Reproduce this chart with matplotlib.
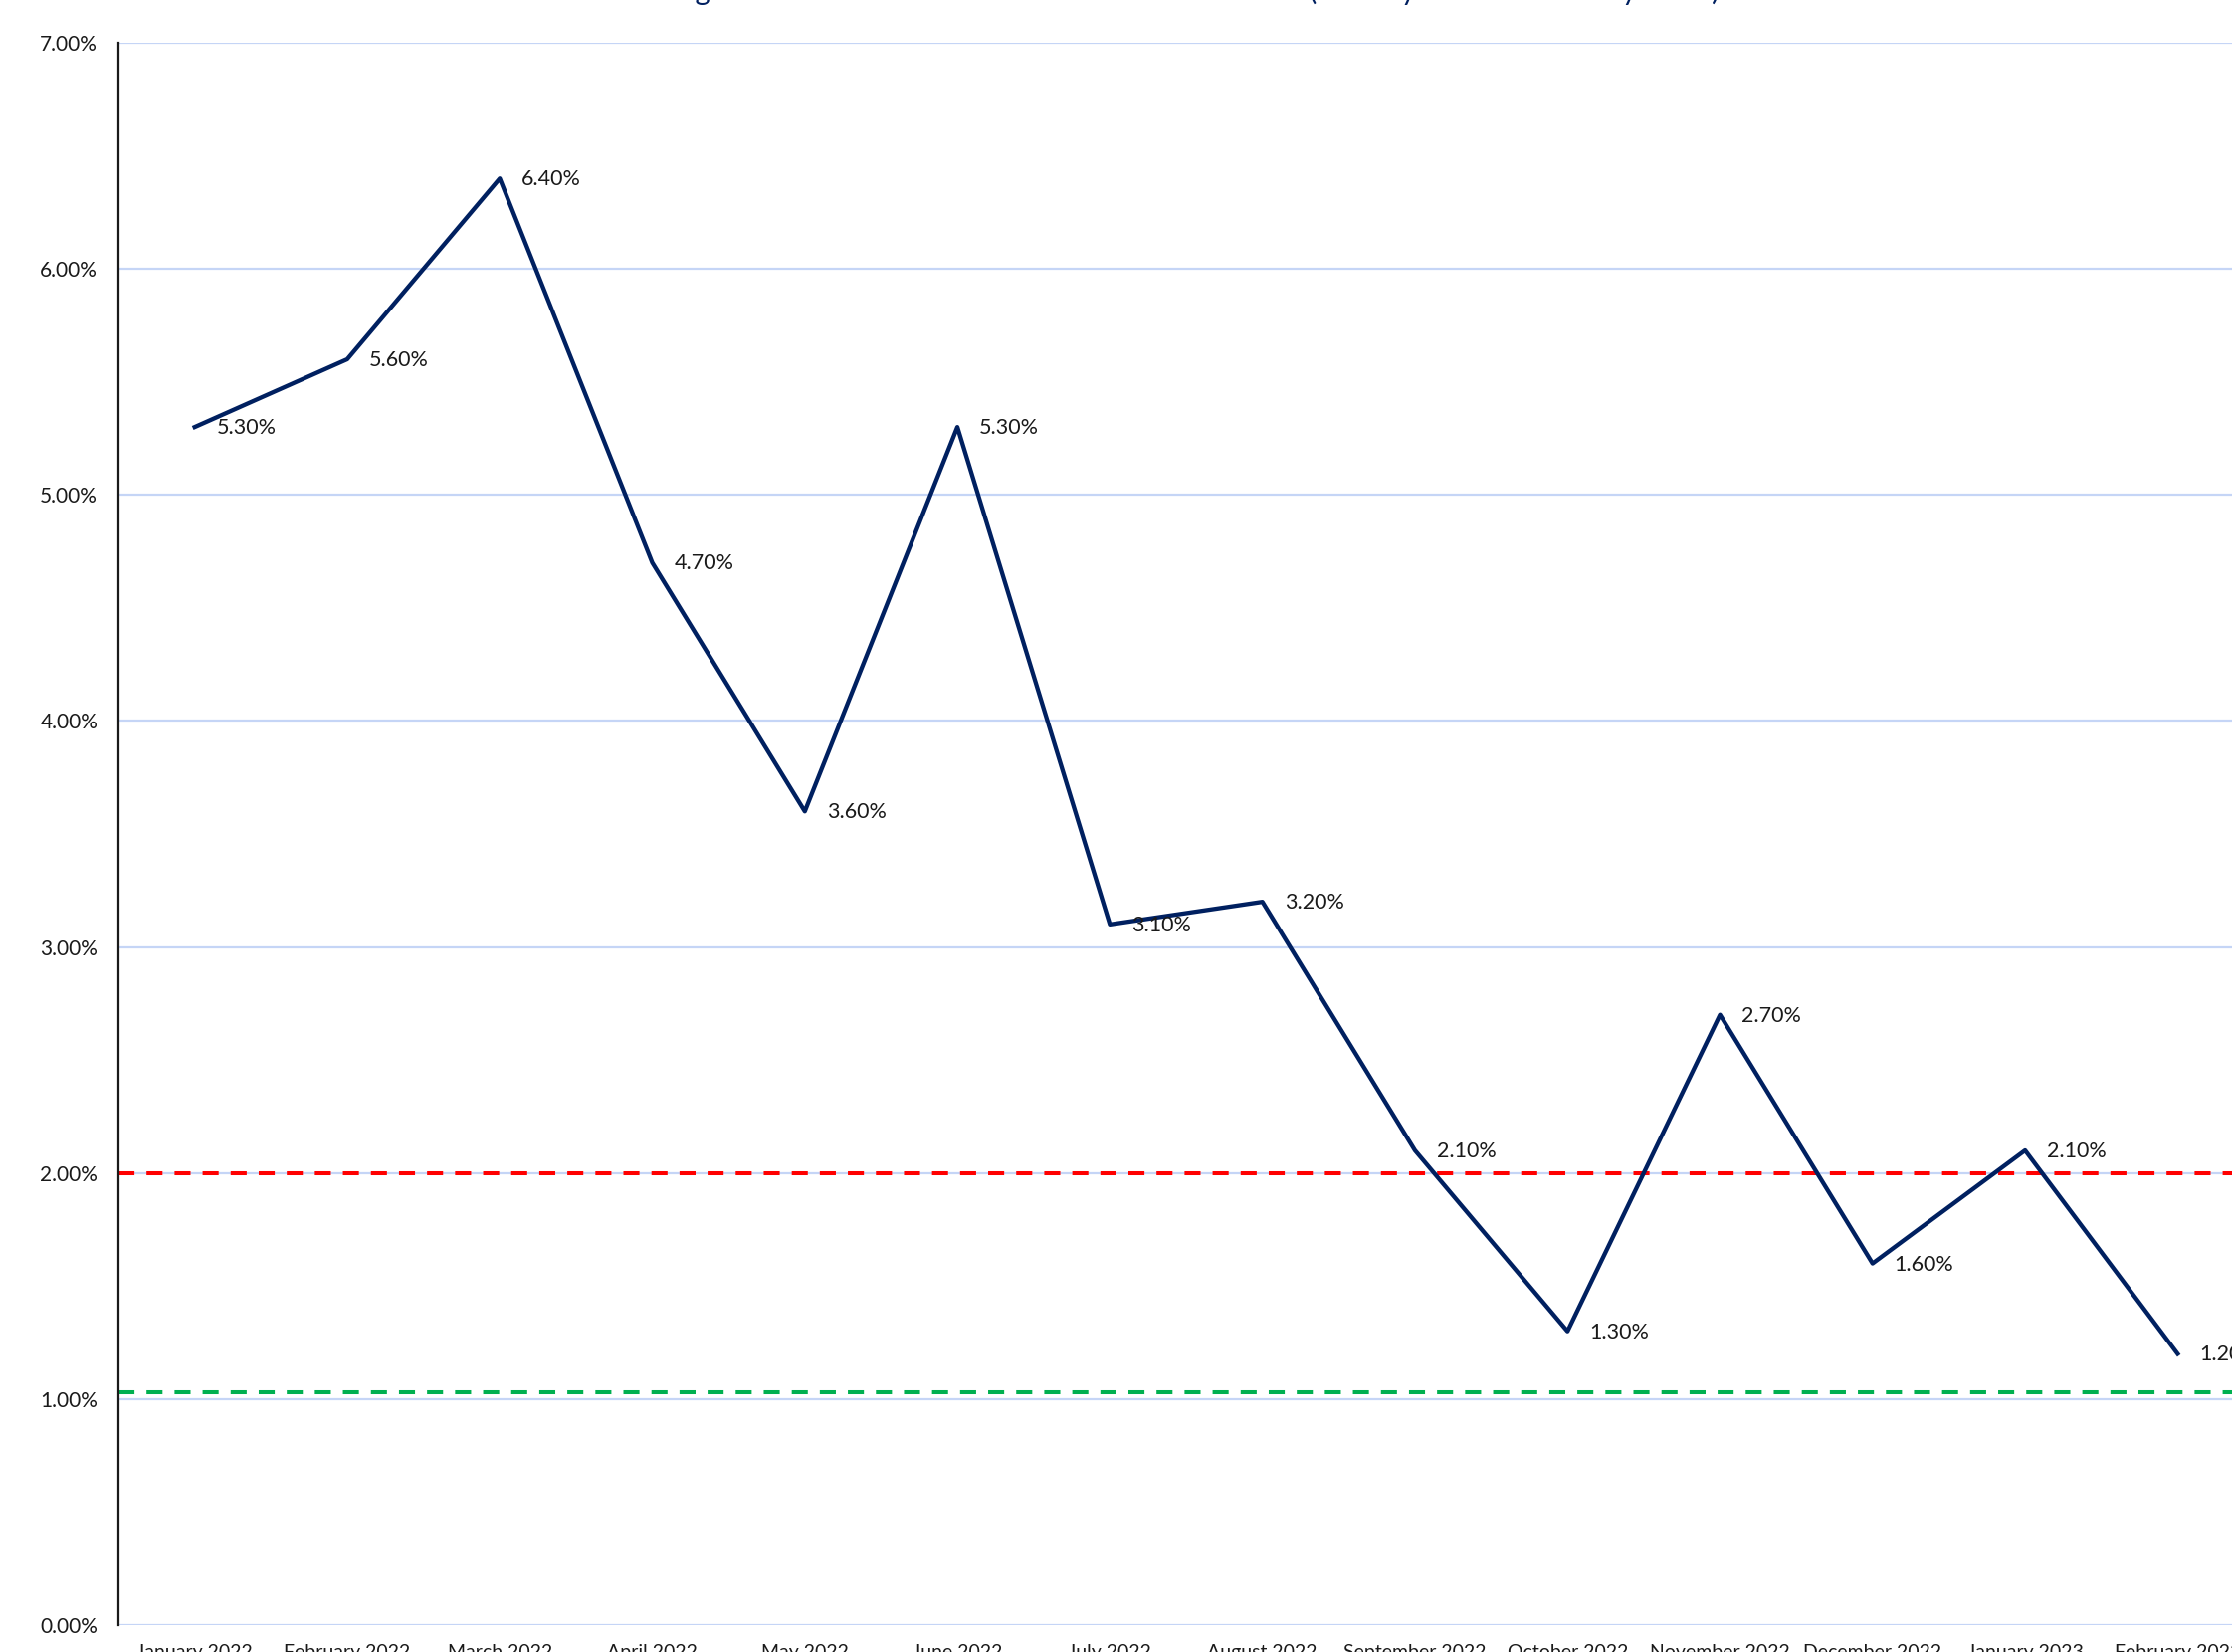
import numpy as np
import matplotlib.pyplot as plt
from matplotlib.ticker import FuncFormatter

months = ["January 2022", "February 2022", "March 2022", "April 2022", "May 2022",
          "June 2022", "July 2022", "August 2022", "September 2022", "October 2022",
          "November 2022", "December 2022", "January 2023", "February 2023"]
rates = [5.3, 5.6, 6.4, 4.7, 3.6, 5.3, 3.1, 3.2, 2.1, 1.3, 2.7, 1.6, 2.1, 1.2]
upper_ref = 2.0
lower_ref = 1.03
title = "Change in the Harmonised Index of Consumer Prices (January 2022 \u2013 February 2023)"

plt.rcParams['font.family'] = ['Lato', 'DejaVu Sans']

W, H = 2243, 1660
fig = plt.figure(figsize=(W / 100, H / 100), dpi=100)
# the plot area runs past the right edge of the image, as in the reference crop
ax = fig.add_axes([119 / W, 27 / H, (2265 - 119) / W, (1633 - 43) / H])

x = np.arange(len(months))
y = np.array(rates) / 100

ax.set_axisbelow(True)
ax.yaxis.grid(True, color='#C5D5F6', linewidth=1.6)
ax.set_xlim(-0.5, len(months) - 0.5)
ax.set_ylim(0, 0.07)
ax.set_yticks(np.arange(0, 0.0701, 0.01))
ax.yaxis.set_major_formatter(FuncFormatter(lambda v, p: f"{v * 100:.2f}%"))
ax.set_xticks(x)
ax.set_xticklabels(months)
ax.tick_params(axis='both', length=0, labelsize=15, colors='#1a1a1a')
ax.tick_params(axis='x', labelsize=14, pad=14)
ax.tick_params(axis='y', pad=15)

for s in ['top', 'right', 'bottom']:
    ax.spines[s].set_visible(False)
ax.spines['left'].set_color('#1a1a1a')
ax.spines['left'].set_linewidth(1.6)

red = ax.axhline(upper_ref / 100, color='#FF0000', linewidth=2.9, zorder=2)
red.set_dashes((4, 3))
green = ax.axhline(lower_ref / 100, color='#00B050', linewidth=2.9, zorder=2)
green.set_dashes((4, 3))

ax.plot(x, y, color='#002060', linewidth=3.1, zorder=3, clip_on=False)

for xi, yi in zip(x, y):
    ax.annotate(f"{yi * 100:.2f}%", (xi, yi), xytext=(22, -1), textcoords='offset pixels',
                ha='left', va='center', fontsize=15.5, color='#1a1a1a',
                annotation_clip=False)

fig.text(1728 / W, 1.0, title, ha='right', va='baseline', fontsize=21,
         color='#002060')

fig.savefig('out.png', dpi=100)
